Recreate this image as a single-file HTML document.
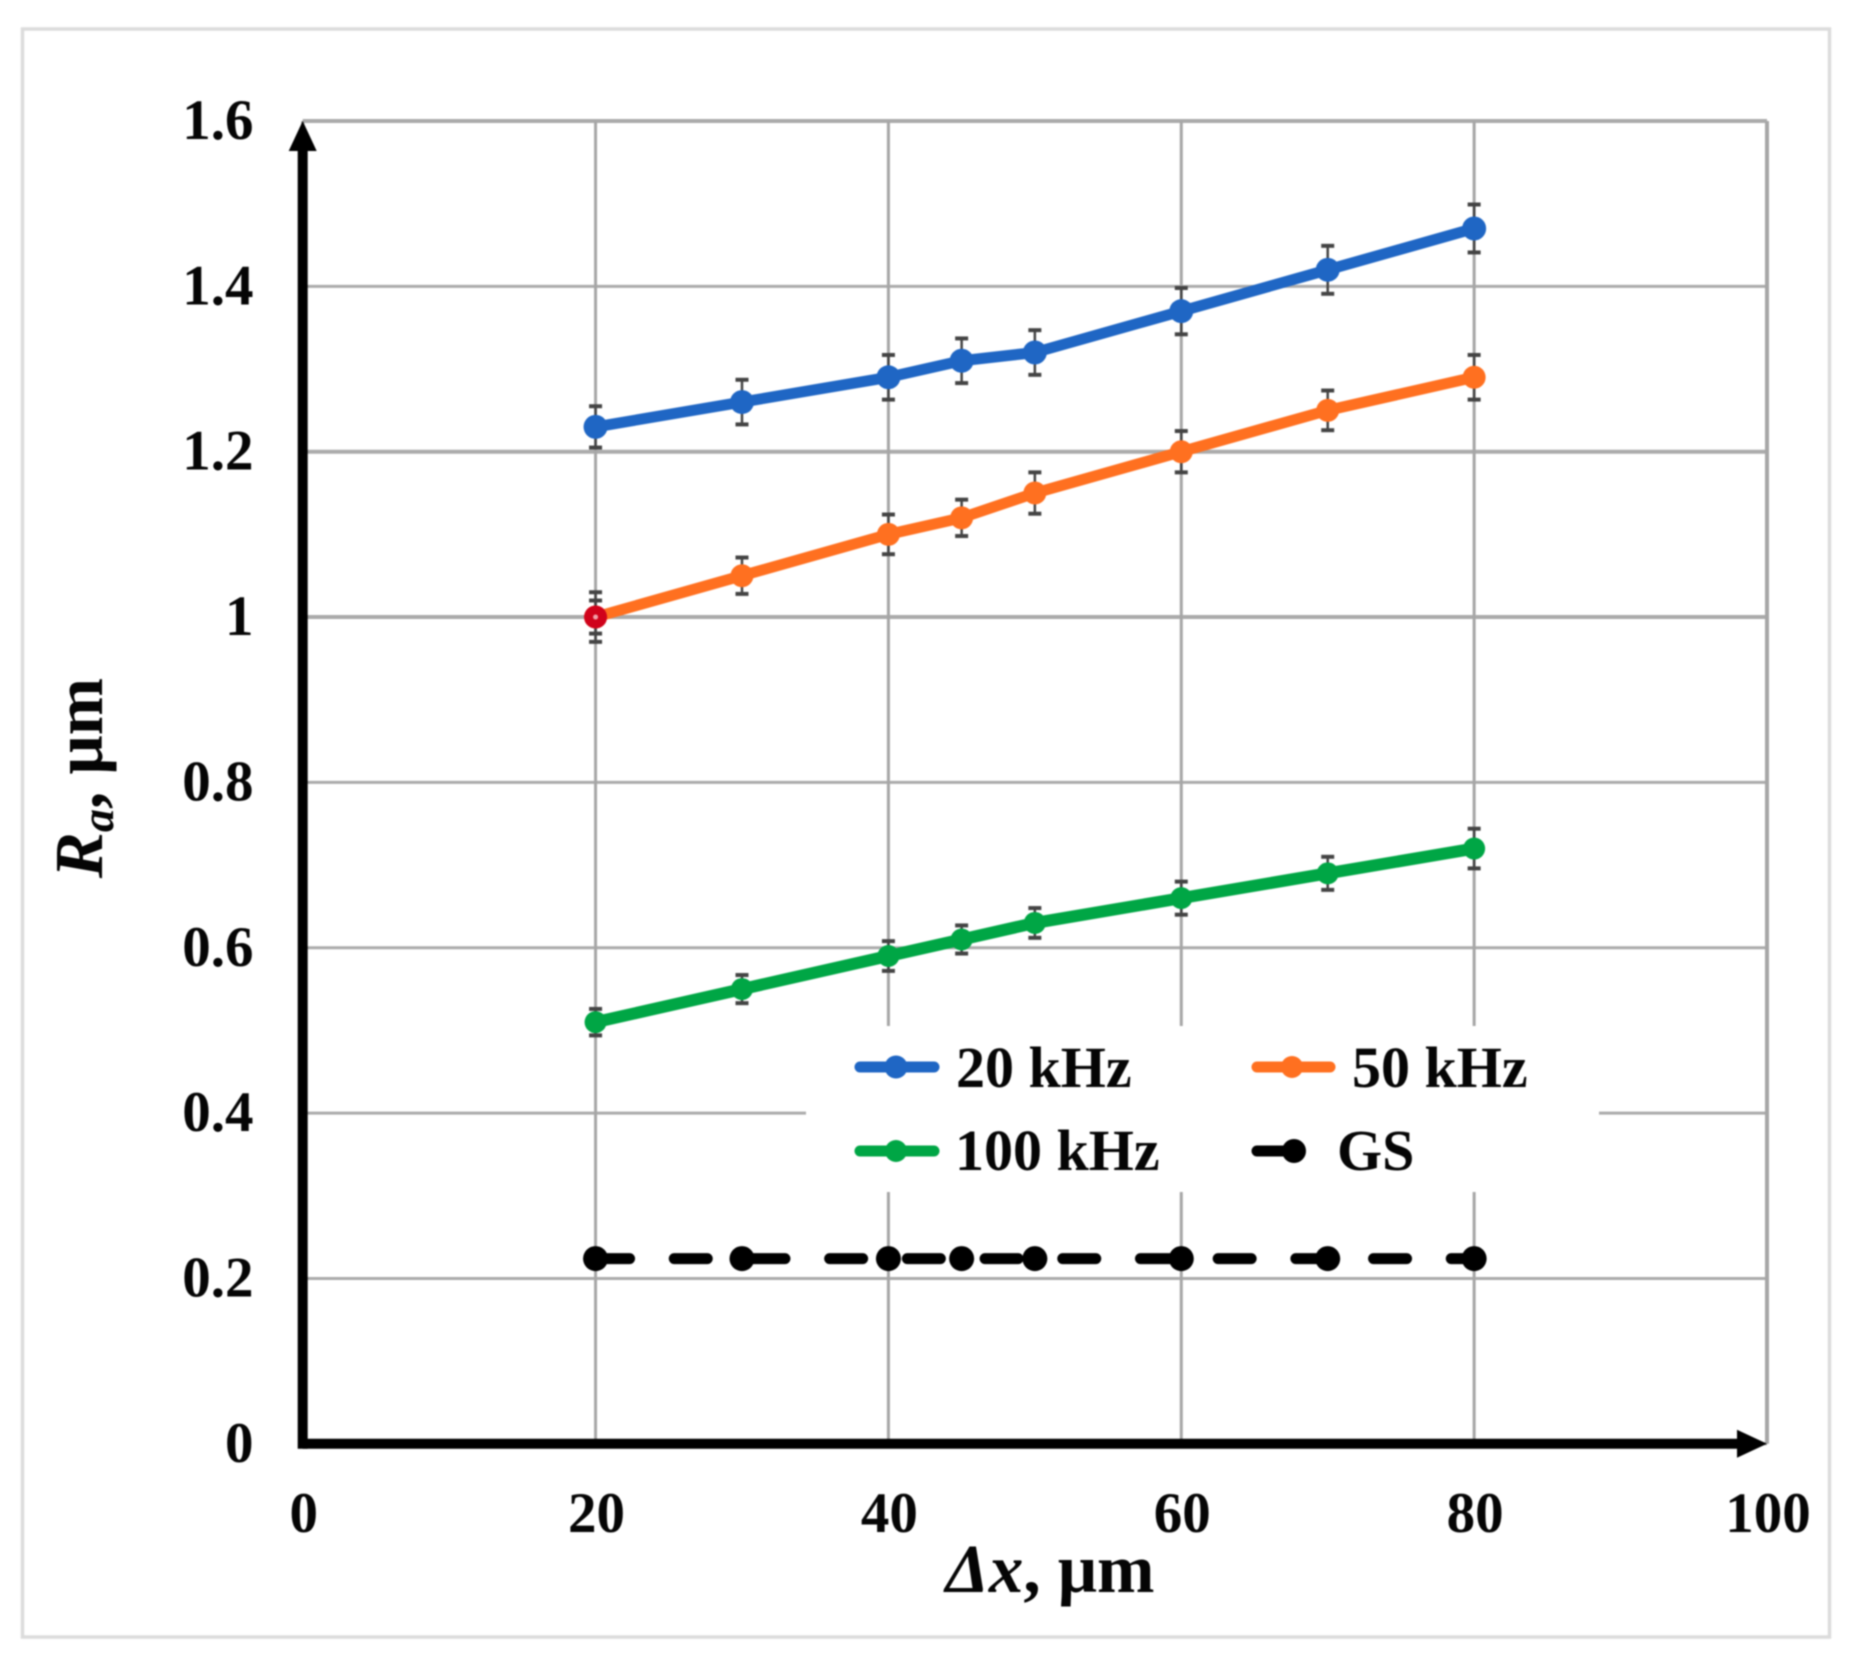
<!DOCTYPE html>
<html lang="en">
<head>
<meta charset="utf-8">
<title>Ra versus Δx</title>
<style>
html,body{margin:0;padding:0;background:#fff;width:1861px;height:1676px;overflow:hidden}
svg{display:block;filter:blur(0.9px)}
text{font-family:"Liberation Serif",serif;font-weight:bold;fill:#050505}
</style>
</head>
<body>
<svg id="chart" xmlns="http://www.w3.org/2000/svg" width="1861" height="1676" viewBox="0 0 1861 1676">
  <rect x="22.5" y="29" width="1807" height="1608" fill="#fff" stroke="#dcdcdc" stroke-width="3.5"/>
  <g id="grid"></g>
  <g id="series"></g>
  <g id="axes"></g>
  <g id="ticks"></g>
  <text x="1050" y="1592" text-anchor="middle" font-size="69"><tspan font-style="italic">Δx</tspan>, μm</text>
  <text transform="translate(102,778) rotate(-90)" text-anchor="middle" font-size="69"><tspan font-style="italic">R</tspan><tspan font-style="italic" font-size="46" dy="11">a</tspan><tspan dy="-11">, μm</tspan></text>
  <g id="legend">
    <rect x="806" y="1026" width="793" height="166" fill="#fff"/>
    <g>
      <line x1="860" x2="934" y1="1067" y2="1067" stroke="#1f66c4" stroke-width="11" stroke-linecap="round"/>
      <circle cx="896" cy="1067" r="11.5" fill="#1f66c4"/>
      <text x="956" y="1087" font-size="58">20 kHz</text>
    </g>
    <g>
      <line x1="1257" x2="1330" y1="1067" y2="1067" stroke="#ff7020" stroke-width="11" stroke-linecap="round"/>
      <circle cx="1292" cy="1067" r="11" fill="#ff7020"/>
      <text x="1352" y="1087" font-size="58">50 kHz</text>
    </g>
    <g>
      <line x1="860" x2="934" y1="1151" y2="1151" stroke="#00a645" stroke-width="11" stroke-linecap="round"/>
      <circle cx="896" cy="1151" r="11" fill="#00a645"/>
      <text x="955" y="1170" font-size="58">100 kHz</text>
    </g>
    <g>
      <line x1="1257" x2="1292" y1="1151" y2="1151" stroke="#000" stroke-width="11" stroke-linecap="round"/>
      <circle cx="1294" cy="1151" r="12" fill="#000"/>
      <text x="1337" y="1170" font-size="58">GS</text>
    </g>
  </g>
</svg>
<script>
var xValues = [20, 30, 40, 45, 50, 60, 70, 80];
var khz20 = [1.23, 1.26, 1.29, 1.31, 1.32, 1.37, 1.42, 1.47];
var khz20Err = [0.025, 0.027, 0.027, 0.027, 0.027, 0.028, 0.029, 0.029];
var khz50 = [1.00, 1.05, 1.10, 1.12, 1.15, 1.20, 1.25, 1.29];
var khz50Err = [0.03, 0.022, 0.024, 0.022, 0.025, 0.025, 0.024, 0.027];
var khz100 = [0.51, 0.55, 0.59, 0.61, 0.63, 0.66, 0.69, 0.72];
var khz100Err = [0.016, 0.017, 0.018, 0.017, 0.018, 0.02, 0.02, 0.024];
var gsValues = [0.224, 0.224, 0.224, 0.224, 0.224, 0.224, 0.224, 0.224];
var highlightX = [20];
var highlightY = [1.0];
var highlightErr = [0.02];
var xTickValues = [0, 20, 40, 60, 80, 100];
var yTickValues = [0, 0.2, 0.4, 0.6, 0.8, 1, 1.2, 1.4, 1.6];
var yTickLabels = ['0', '0.2', '0.4', '0.6', '0.8', '1', '1.2', '1.4', '1.6'];

var NS = 'http://www.w3.org/2000/svg';
function sx(v) { return 302.7 + v * (1767 - 302.7) / 100; }
function sy(v) { return 1443.8 - v * (1443.8 - 121) / 1.6; }
function mk(parent, tag, a) {
  var el = document.createElementNS(NS, tag);
  for (var k in a) { el.setAttribute(k, a[k]); }
  parent.appendChild(el);
  return el;
}
var gGrid = document.getElementById('grid');
var gSeries = document.getElementById('series');
var gAxes = document.getElementById('axes');
var gTicks = document.getElementById('ticks');

yTickValues.forEach(function (v, i) {
  var thick = (v === 1.6 || v === 1.2 || v === 1) ? 4 : 3;
  var el = mk(gGrid, 'line', { x1: sx(0), x2: sx(100), y1: sy(v), y2: sy(v), stroke: '#ababab', 'stroke-width': thick });
  
  
  var t = mk(gTicks, 'text', { x: 253.5, y: sy(v) + 18, 'text-anchor': 'end', 'font-size': 57 });
  t.textContent = yTickLabels[i];
  
  
});
xTickValues.forEach(function (v) {
  var el = mk(gGrid, 'line', { x1: sx(v), x2: sx(v), y1: sy(1.6), y2: sy(0), stroke: '#a6a6a6', 'stroke-width': v === 100 ? 4 : 3 });
  
  
  var t = mk(gTicks, 'text', { x: sx(v) + 1, y: 1532, 'text-anchor': 'middle', 'font-size': 57 });
  t.textContent = String(v);
  
  
});

function errorBar(x, y, e, cap) {
  var g = mk(gSeries, 'g', { stroke: '#444', fill: 'none' });
  
  
  mk(g, 'line', { x1: sx(x), x2: sx(x), y1: sy(y - e), y2: sy(y + e), 'stroke-width': 2.5 });
  mk(g, 'line', { x1: sx(x) - cap, x2: sx(x) + cap, y1: sy(y + e), y2: sy(y + e), 'stroke-width': 4 });
  mk(g, 'line', { x1: sx(x) - cap, x2: sx(x) + cap, y1: sy(y - e), y2: sy(y - e), 'stroke-width': 4 });
}
function drawSeries(values, errs, color, lineWidth, radius, dash, label) {
  if (errs) {
    values.forEach(function (v, i) { errorBar(xValues[i], v, errs[i], 6.5); });
  }
  var pts = values.map(function (v, i) { return sx(xValues[i]) + ',' + sy(v); }).join(' ');
  var attrs = { points: pts, fill: 'none', stroke: color, 'stroke-width': lineWidth, 'stroke-linejoin': 'round', 'stroke-linecap': 'round' };
  if (dash) { attrs['stroke-dasharray'] = dash; attrs['stroke-dashoffset'] = -1; }
  var line = mk(gSeries, 'polyline', attrs);
  
  
  values.forEach(function (v, i) {
    var c = mk(gSeries, 'circle', { cx: sx(xValues[i]), cy: sy(v), r: radius, fill: color });
    
    
  });
}
drawSeries(khz20, khz20Err, '#1f66c4', 11, 12, null, 'series-20-khz');
drawSeries(khz50, khz50Err, '#ff7020', 11, 11.5, null, 'series-50-khz');
drawSeries(khz100, khz100Err, '#00a645', 12, 11, null, 'series-100-khz');
drawSeries(gsValues, null, '#000', 11, 12.5, '33 44.7', 'series-gs');

highlightX.forEach(function (x, i) {
  errorBar(x, highlightY[i], highlightErr[i], 6.5);
  var c = mk(gSeries, 'circle', { cx: sx(x), cy: sy(highlightY[i]), r: 11.5, fill: '#d0021b' });
  
  
  var d = mk(gSeries, 'circle', { cx: sx(x), cy: sy(highlightY[i]), r: 2.5, fill: '#f0a0a8' });
  
  
});

var yAxis = mk(gAxes, 'line', { x1: sx(0), x2: sx(0), y1: sy(0) + 5, y2: sy(1.6) + 25, stroke: '#000', 'stroke-width': 10 });


var xAxis = mk(gAxes, 'line', { x1: sx(0), x2: sx(100) - 25, y1: sy(0), y2: sy(0), stroke: '#000', 'stroke-width': 10 });


var yArrow = mk(gAxes, 'polygon', { points: [sx(0), sy(1.6), sx(0) + 14, sy(1.6) + 30, sx(0) - 14, sy(1.6) + 30].join(' '), fill: '#000' });


var xArrow = mk(gAxes, 'polygon', { points: [sx(100), sy(0), sx(100) - 30, sy(0) - 14, sx(100) - 30, sy(0) + 14].join(' '), fill: '#000' });


</script>
</body>
</html>
